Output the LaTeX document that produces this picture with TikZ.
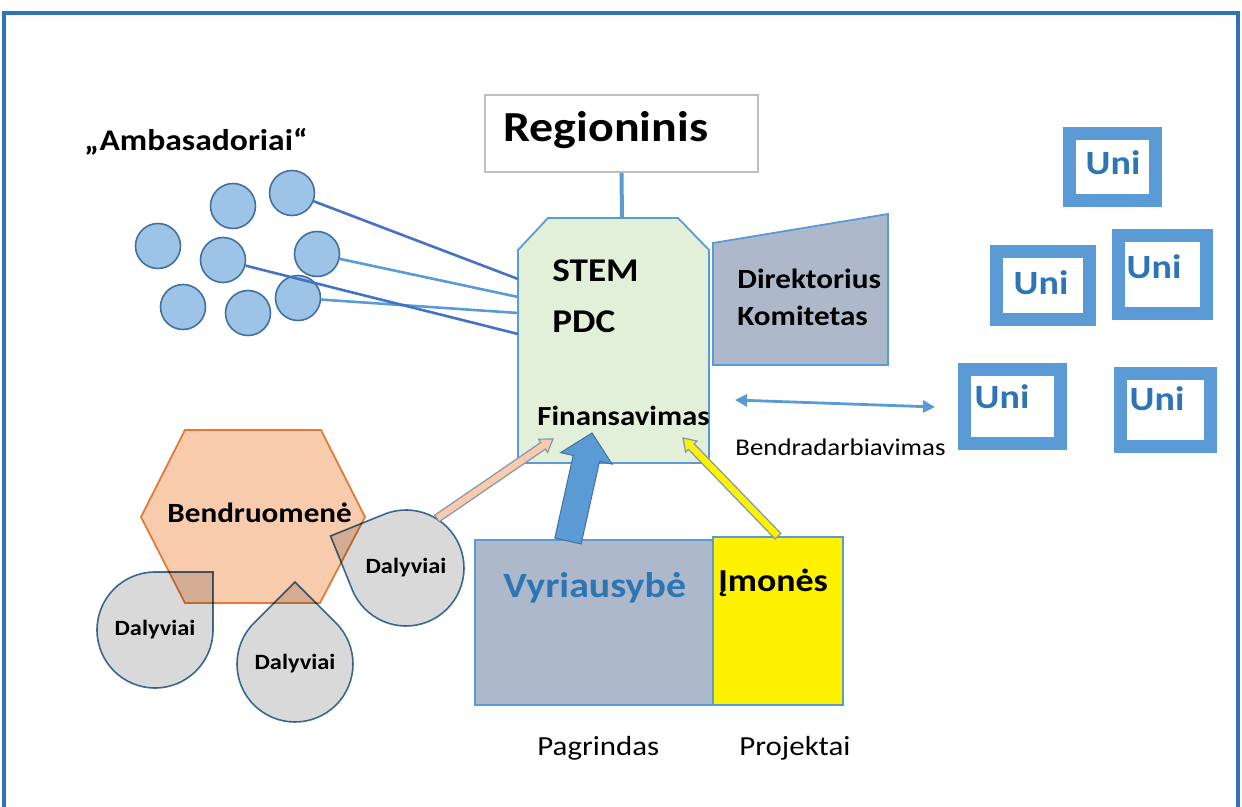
\documentclass[tikz,border=0pt]{standalone}
\usepackage{fontspec}
\setmainfont{Carlito}[FakeStretch=1.12]
\usetikzlibrary{calc,arrows.meta}
\definecolor{framebl}{HTML}{2E75B6}
\definecolor{ambfill}{HTML}{9DC3E6}
\definecolor{ambdraw}{HTML}{41719C}
\definecolor{darkln}{HTML}{4472C4}
\definecolor{lightln}{HTML}{5B9BD5}
\definecolor{stemfill}{HTML}{E2F0D9}
\definecolor{slate}{HTML}{ADB9CA}
\definecolor{peach}{HTML}{F8CBAD}
\definecolor{orng}{HTML}{E07B39}
\definecolor{dropgray}{HTML}{D9D9D9}
\definecolor{unitext}{HTML}{2E75B6}
\definecolor{arrowedge}{HTML}{8497B0}
\definecolor{boxgray}{HTML}{BFBFBF}
\tikzstyle{amb}=[circle, fill=ambfill, draw=ambdraw, line width=0.8pt, minimum size=22.5pt, inner sep=0pt]
\tikzstyle{lbl}=[inner sep=0pt, anchor=base west]
\tikzstyle{unibox}=[rectangle, draw=lightln, line width=6.5pt, fill=white, inner sep=0pt]
\tikzstyle{unitxt}=[inner sep=0pt, text=unitext, font=\fontsize{17}{20}\selectfont\bfseries]
\tikzstyle{drop}=[fill=dropgray, draw=ambdraw, line width=0.8pt, blend mode=multiply]
\tikzstyle{droptxt}=[circle, minimum size=58pt, inner sep=0pt, font=\fontsize{10.9}{12}\selectfont\bfseries]
\tikzstyle{plate}=[rectangle, draw=lightln, line width=0.8pt, inner sep=0pt]
\newcommand{\drawdrop}[4]
{
  \draw[drop] ($(#2)+(#3+45:58)$) arc[start angle=#3+45, end angle=#3+315, radius=58] -- ($(#2)+(#3:82)$) -- cycle;
  \node[droptxt] (#1) at (#2) {#4};
}
\newcommand{\blockarrow}[6]
{
  \draw[#6] ($(#1)!#3!90:(#2)$) -- ($(#2)!#5!(#1)!#3!90:(#2)$) -- ($(#2)!#5!(#1)!#4!90:(#2)$) -- (#2)
    -- ($(#2)!#5!(#1)!#4!-90:(#2)$) -- ($(#2)!#5!(#1)!#3!-90:(#2)$) -- ($(#1)!#3!-90:(#2)$) -- cycle;
}
\begin{document}
\begin{tikzpicture}[x=0.5pt, y=-0.5pt]
	\useasboundingbox (0,0) rectangle (1242,807);
	\draw[framebl, line width=2pt] (4,807) -- (4,13) -- (1238,13) -- (1238,807);

	\node[lbl, font=\fontsize{15}{18}\selectfont\bfseries] (ambt) at (84,151) {„Ambasadoriai“};
	\node[amb] (a1) at (292,193) {};
	\node[amb] (a2) at (233,206) {};
	\node[amb] (a3) at (158,246) {};
	\node[amb] (a4) at (223,260) {};
	\node[amb] (a5) at (317,254) {};
	\node[amb] (a6) at (183,307) {};
	\node[amb] (a7) at (248,313) {};
	\node[amb] (a8) at (298,298) {};

	\node[rectangle, draw=boxgray, line width=0.8pt, fill=white, minimum width=136.5pt, minimum height=38.5pt] (regio) at (621.5,133.5) {};
	\node[lbl, font=\fontsize{21.4}{24}\selectfont\bfseries] (regt) at (503,142) {Regioninis};

	\draw[fill=stemfill, draw=lightln, line width=0.9pt] (518,250) -- (548,218) -- (678,218) -- (709,250) -- (709,463) -- (518,463) -- cycle;
	\coordinate (stemtop) at (622,218);
	\coordinate (s1) at (518,279);
	\coordinate (s2) at (518,297);
	\coordinate (s3) at (518,313);
	\coordinate (s4) at (518,334);
	\draw[lightln, line width=2pt] (regio.south) -- (stemtop);
	\draw[darkln, line width=1.3pt] (a1) -- (s1);
	\draw[lightln, line width=1.3pt] (a5) -- (s2);
	\draw[lightln, line width=1.3pt] (a8) -- (s3);
	\draw[darkln, line width=1.3pt] (a4) -- (s4);
	\node[lbl, font=\fontsize{16.6}{20}\selectfont\bfseries] (stem) at (552,282) {STEM};
	\node[lbl, font=\fontsize{16.6}{20}\selectfont\bfseries] (pdc) at (552,333) {PDC};
	\node[lbl, font=\fontsize{13.8}{16}\selectfont\bfseries] (fin) at (537,426) {Finansavimas};

	\draw[fill=slate, draw=lightln, line width=0.9pt] (713,243) -- (888,214) -- (888,365) -- (713,365) -- cycle;
	\node[lbl, font=\fontsize{13.9}{16}\selectfont\bfseries] (dir) at (737,289) {Direktorius};
	\node[lbl, font=\fontsize{13.9}{16}\selectfont\bfseries] (kom) at (737,326) {Komitetas};

	\coordinate (coopl) at (735,400);
	\coordinate (coopr) at (935,407);
	\draw[lightln, line width=1.4pt, {Triangle[length=6pt,width=6pt]}-{Triangle[length=6pt,width=6pt]}] (coopl) -- (coopr);
	\node[lbl, font=\fontsize{12}{14}\selectfont] (coop) at (735,456) {Bendradarbiavimas};

	\node[unibox, minimum width=43pt, minimum height=33.5pt] (u1) at (1112.5,167) {};
	\node[unibox, minimum width=46.5pt, minimum height=34pt] (u2) at (1043,285.5) {};
	\node[unibox, minimum width=44pt, minimum height=39pt] (u3) at (1162.5,274.5) {};
	\node[unibox, minimum width=48pt, minimum height=37pt] (u4) at (1012.5,406.5) {};
	\node[unibox, minimum width=45pt, minimum height=36.5pt] (u5) at (1165.5,410) {};
	\node[unitxt] (ut1) at (1113,163) {Uni};
	\node[unitxt] (ut2) at (1041,283) {Uni};
	\node[unitxt] (ut3) at (1154,267) {Uni};
	\node[unitxt] (ut4) at (1002,397) {Uni};
	\node[unitxt] (ut5) at (1157,399) {Uni};

	\draw[fill=peach, draw=orng, line width=0.9pt] (185,430) -- (321,430) -- (365,517) -- (320,603) -- (185,603) -- (141,517) -- cycle;
	\node[lbl, font=\fontsize{13.9}{16}\selectfont\bfseries] (comm) at (167,522) {Bendruomenė};
	\drawdrop{d1}{155,630}{-45}{Dalyviai}
	\drawdrop{d2}{295,664}{-90}{Dalyviai}
	\drawdrop{d3}{406,568}{-157}{Dalyviai}

	\node[plate, fill=slate, minimum width=119pt, minimum height=82.5pt] (vyr) at (594,622.5) {};
	\node[plate, fill=yellow, minimum width=65pt, minimum height=84pt] (imo) at (778,621) {};
	\node[lbl, text=unitext, font=\fontsize{17.8}{20}\selectfont\bfseries] (vyrt) at (503,597) {Vyriausybė};
	\node[lbl, font=\fontsize{16}{18}\selectfont\bfseries] (imot) at (718,591) {Įmonės};
	\node[lbl, font=\fontsize{13.8}{16}\selectfont] (base) at (537,755) {Pagrindas};
	\node[lbl, font=\fontsize{13.8}{16}\selectfont] (proj) at (739,755) {Projektai};

	\coordinate (tipP) at (553,439);
	\coordinate (tipG) at (592,433);
	\coordinate (tipY) at (683,438);
	\coordinate (govbase) at (568,541);
	\blockarrow{d3.58}{tipP}{2pt}{4pt}{6pt}{fill=peach, draw=arrowedge, line width=0.6pt}
	\blockarrow{govbase}{tipG}{6.75pt}{13.2pt}{13pt}{fill=lightln, draw=ambdraw, line width=0.5pt}
	\blockarrow{imo.north}{tipY}{2pt}{4pt}{6pt}{fill=yellow, draw=arrowedge, line width=0.6pt}

\end{tikzpicture}
\end{document}
